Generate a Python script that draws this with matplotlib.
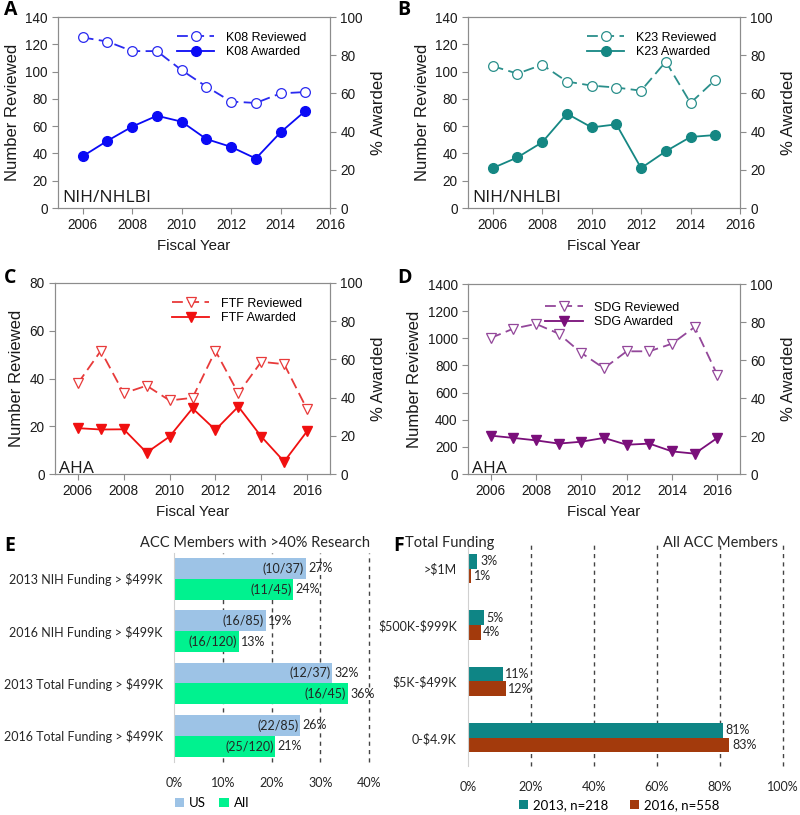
import numpy as np
import matplotlib
matplotlib.use('Agg')
import matplotlib.pyplot as plt

plt.rcParams['font.family'] = ['Liberation Sans', 'DejaVu Sans']
plt.rcParams['text.parse_math'] = False

# ---- data: line panels ----
years_nih = [2006, 2007, 2008, 2009, 2010, 2011, 2012, 2013, 2014, 2015]
years_aha = [2006, 2007, 2008, 2009, 2010, 2011, 2012, 2013, 2014, 2015, 2016]

k08_reviewed = [125, 122, 115, 115, 101, 89, 78, 77, 84, 85]
k08_awarded = [27.1, 35.2, 42.6, 48.3, 45.2, 36.1, 32.0, 25.9, 39.6, 50.8]

k23_reviewed = [104, 98.5, 105, 92.7, 89.7, 88.3, 86, 107.3, 77, 93.9]
k23_awarded = [20.9, 26.5, 34.4, 49.4, 42.2, 43.8, 20.9, 29.7, 37.2, 38.2]

ftf_reviewed = [38, 51.6, 33.8, 37, 30.8, 31.9, 51.6, 33.8, 47, 46, 27.1]
ftf_awarded = [24.0, 23.3, 23.4, 11.2, 19.6, 34.4, 23.1, 35.3, 19.6, 6.5, 22.4]

sdg_reviewed = [1002, 1071, 1106, 1034, 892, 779, 904, 904, 960, 1083, 730]
sdg_awarded = [20.2, 19.0, 17.7, 16.0, 17.0, 19.0, 15.4, 16.0, 11.9, 10.7, 19.0]

# ---- data: bar panels ----
e_categories = ['2013 NIH Funding > $499K', '2016 NIH Funding > $499K',
                '2013 Total Funding > $499K', '2016 Total Funding > $499K']
e_us = [27.0, 18.8, 32.4, 25.9]
e_all = [24.4, 13.3, 35.6, 20.8]
e_us_counts = ['(10/37)', '(16/85)', '(12/37)', '(22/85)']
e_all_counts = ['(11/45)', '(16/120)', '(16/45)', '(25/120)']
e_us_labels = ['27%', '19%', '32%', '26%']
e_all_labels = ['24%', '13%', '36%', '21%']

f_categories = ['>$1M', '$500K-$999K', '$5K-$499K', '0-$4.9K']
f_2013 = [3, 5, 11, 81]
f_2016 = [1, 4, 12, 83]

W, H = 800, 815
fig = plt.figure(figsize=(W / 100, H / 100), dpi=100)


def px_axes(x0, y0, x1, y1):
    return fig.add_axes([x0 / W, 1 - y1 / H, (x1 - x0) / W, (y1 - y0) / H])


GRAY = '#8c8c8c'
TXT = '#1a1a1a'


def line_panel(rect, years, reviewed, awarded, name, color, rcolor, marker,
               ymax, ystep, xmax, source, leg_anchor):
    ax = px_axes(*rect)
    ax2 = ax.twinx()
    ax.plot(years, reviewed, ls=(0, (6, 3)), color=rcolor, lw=1.3, marker=marker,
            ms=7, mfc='white', mec=rcolor, mew=0.9, label=f'{name} Reviewed')
    ax.plot([], [], color=color, lw=1.3, marker=marker, ms=7, mfc=color, mec=color,
            label=f'{name} Awarded')
    ax2.plot(years, awarded, color=color, lw=1.3, marker=marker, ms=7, mfc=color,
             mec=color)
    ax.set_xlim(2005, xmax)
    ax.set_ylim(0, ymax)
    ax.set_yticks(np.arange(0, ymax + 1, ystep))
    ax.set_xticks(np.arange(2006, 2017, 2))
    ax2.set_ylim(0, 100)
    ax2.set_yticks(np.arange(0, 101, 20))
    for a in (ax, ax2):
        for s in a.spines.values():
            s.set_color(GRAY)
        a.tick_params(colors=GRAY, labelcolor=TXT, labelsize=9.8, length=4,
                      direction='out')
    ax.set_xlabel('Fiscal Year', fontsize=10.8, color=TXT, labelpad=5)
    ax.set_ylabel('Number Reviewed', fontsize=12, color=TXT, labelpad=4)
    ax2.set_ylabel('% Awarded', fontsize=12, color=TXT, labelpad=6)
    ax.legend(loc='upper right', bbox_to_anchor=leg_anchor, frameon=False,
              fontsize=9, handlelength=3.0, handletextpad=0.9, labelspacing=0.2,
              borderpad=0)
    ax.text(0.015, 0.01, source, transform=ax.transAxes, fontsize=12.5,
            family=['Open Sans', 'DejaVu Sans'], color=TXT, va='bottom',
            ha='left')
    return ax


line_panel((58, 17, 330, 208), years_nih, k08_reviewed, k08_awarded, 'K08',
           '#0a0af5', '#2a2af0', 'o', 140, 20, 2016, 'NIH/NHLBI', (0.935, 0.955))
line_panel((468, 17, 740, 208), years_nih, k23_reviewed, k23_awarded, 'K23',
           '#158783', '#2a8f8b', 'o', 140, 20, 2016, 'NIH/NHLBI', (0.935, 0.955))
ax_c = line_panel((55, 283, 330, 474), years_aha, ftf_reviewed, ftf_awarded, 'FTF',
                  '#f01010', '#e83a3a', 'v', 80, 20, 2017, 'AHA', (0.92, 0.955))
ax_d = line_panel((468, 284, 740, 474), years_aha, sdg_reviewed, sdg_awarded, 'SDG',
                  '#7a0f7a', '#93479a', 'v', 1400, 200, 2017, 'AHA', (0.80, 0.94))
for a in (ax_c, ax_d):
    a.texts[0].set_y(-0.015)

# ---- bar panels ----
cal = ['Lato', 'DejaVu Sans']
BT = '#262626'
FS = 9


def style_bar_axes(ax, xmax, step, legend_x, legend_y, colspace):
    ax.set_ylim(3.5, -0.5)
    ax.set_xlim(0, xmax)
    ticks = np.arange(0, xmax + 1, step)
    ax.set_xticks(ticks)
    ax.set_xticklabels([f'{t}%' for t in ticks])
    for s in ['top', 'right', 'bottom']:
        ax.spines[s].set_visible(False)
    ax.spines['left'].set_color('#d0d0d0')
    ax.tick_params(length=0, labelsize=FS, labelcolor=BT, pad=8)
    ax.tick_params(axis='x', pad=11)
    for lab in ax.get_xticklabels() + ax.get_yticklabels():
        lab.set_family(cal)
    ax.grid(axis='x', ls=(0, (3, 3)), color='#444444', lw=1.0)
    for gl in ax.get_xgridlines():
        gl.set_clip_on(False)
    ax.get_xgridlines()[0].set_visible(False)
    ax.set_axisbelow(True)
    ax.legend(loc='center left', bbox_to_anchor=(legend_x, legend_y), ncol=2,
              frameon=False, prop={'family': cal, 'size': 9.5}, handlelength=0.7,
              handleheight=0.7, handletextpad=0.4, columnspacing=colspace,
              borderpad=0)


# panel E
axe = px_axes(174, 552.6, 369, 762)
y = np.arange(len(e_categories))
bh = 0.4
axe.barh(y - bh / 2, e_us, height=bh, color='#9dc3e6', label='US')
axe.barh(y + bh / 2, e_all, height=bh, color='#00f28f', label='All')
for i in range(len(y)):
    axe.text(e_us[i] - 0.3, y[i] - bh / 2, e_us_counts[i], ha='right', va='center',
             fontsize=FS, family=cal, color=BT)
    axe.text(e_us[i] + 0.5, y[i] - bh / 2, e_us_labels[i], ha='left', va='center',
             fontsize=FS, family=cal, color=BT, clip_on=False)
    axe.text(e_all[i] - 0.3, y[i] + bh / 2, e_all_counts[i], ha='right', va='center',
             fontsize=FS, family=cal, color=BT)
    axe.text(e_all[i] + 0.5, y[i] + bh / 2, e_all_labels[i], ha='left', va='center',
             fontsize=FS, family=cal, color=BT, clip_on=False)
axe.set_yticks(y)
axe.set_yticklabels(e_categories)
style_bar_axes(axe, 40, 10, -0.03, -0.196, 1.0)
fig.text(370 / W, 1 - 543 / H, 'ACC Members with >40% Research', ha='right',
         va='center', fontsize=10.5, family=cal, color=BT)

# panel F
axf = px_axes(468, 540.5, 783, 766)
y = np.arange(len(f_categories))
bh = 0.26
axf.barh(y - bh / 2, f_2013, height=bh, color='#0e8585', label='2013, n=218')
axf.barh(y + bh / 2, f_2016, height=bh, color='#a33a0c', label='2016, n=558')
for i in range(len(y)):
    axf.text(f_2013[i] + 0.8, y[i] - bh / 2, f'{f_2013[i]}%', ha='left', va='center',
             fontsize=FS, family=cal, color=BT)
    axf.text(f_2016[i] + 0.8, y[i] + bh / 2, f'{f_2016[i]}%', ha='left', va='center',
             fontsize=FS, family=cal, color=BT)
axf.set_yticks(y)
axf.set_yticklabels(f_categories)
style_bar_axes(axf, 100, 20, 0.14, -0.173, 1.6)
fig.text(405 / W, 1 - 543 / H, 'Total Funding', ha='left', va='center',
         fontsize=10.5, family=cal, color=BT)
fig.text(778 / W, 1 - 543 / H, 'All ACC Members', ha='right', va='center',
         fontsize=10.5, family=cal, color=BT)

# ---- panel letters ----
for letter, (lx, ly) in {'A': (4, 10), 'B': (397, 10), 'C': (4, 278),
                         'D': (397, 278), 'E': (4, 546), 'F': (393, 546)}.items():
    fig.text(lx / W, 1 - ly / H, letter, fontsize=14, fontweight='bold',
             family=['Open Sans', 'DejaVu Sans'], va='center', ha='left')

fig.savefig('out.png', dpi=100)
